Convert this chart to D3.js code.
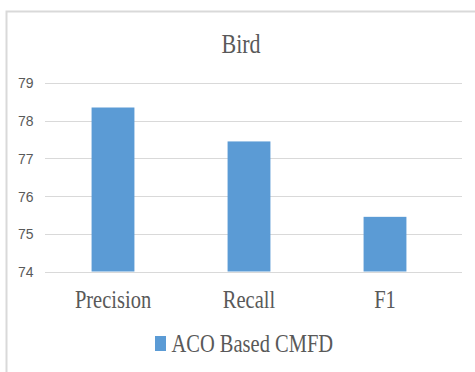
<!DOCTYPE html>
<html>
<head>
<meta charset="utf-8">
<script src="https://cdn.jsdelivr.net/npm/d3@7/dist/d3.min.js"></script>
<style>
  html, body { margin: 0; padding: 0; background: #fff; }
  svg { display: block; }
</style>
</head>
<body>
<svg id="chart" width="475" height="372"></svg>
<script>
// Bird dataset: scores of the ACO based CMFD method
const categories = ["Precision", "Recall", "F1"];
const values = [78.35, 77.45, 75.45];
const yTicks = [74, 75, 76, 77, 78, 79];
const seriesName = "ACO Based CMFD";
const title = "Bird";

const W = 475, H = 372;
const barColor = "#5b9bd5";
const textColor = "#595959";
const gridColor = "#d9d9d9";
const serif = "'Liberation Serif', 'Times New Roman', serif";
const stretch = 1.2; // glyphs are drawn slightly taller than wide

const svg = d3.select("#chart");

// chart frame
svg.append("rect")
  .attr("x", 6.5).attr("y", 11.5)
  .attr("width", W + 10).attr("height", H + 10)
  .attr("fill", "#fff")
  .attr("stroke", gridColor)
  .attr("stroke-width", 2);

const x = d3.scaleBand()
  .domain(categories)
  .range([45, 453])
  .paddingInner(0.685)
  .paddingOuter(0.3425);

const y = d3.scaleLinear()
  .domain([74, 79])
  .range([271.5, 83]);

// horizontal gridlines
svg.append("g")
  .selectAll("line")
  .data(yTicks)
  .join("line")
  .attr("x1", 45).attr("x2", 462)
  .attr("y1", d => Math.round(y(d)) + 0.5)
  .attr("y2", d => Math.round(y(d)) + 0.5)
  .attr("stroke", gridColor)
  .attr("stroke-width", 1);

// y axis labels (each tick group is already placed at its value)
const yAxis = d3.axisLeft(y).tickValues(yTicks).tickFormat(d3.format("d"))
  .tickSize(0).tickPadding(0);
const gy = svg.append("g").attr("transform", "translate(33.5,0)").call(yAxis);
gy.select(".domain").remove();
gy.selectAll("text")
  .attr("fill", textColor)
  .attr("transform", "scale(1,1.1)")
  .style("font-family", "'Liberation Sans', Arial, sans-serif")
  .style("font-size", "14px");

// bars
svg.append("g")
  .selectAll("rect")
  .data(values)
  .join("rect")
  .attr("x", (d, i) => x(categories[i]))
  .attr("width", x.bandwidth())
  .attr("y", d => y(d))
  .attr("height", d => y(74) - y(d))
  .attr("fill", barColor);

// category labels
const xAxis = d3.axisBottom(x).tickSize(0).tickPadding(0);
const gx = svg.append("g").call(xAxis);
gx.select(".domain").remove();
gx.selectAll(".tick text").remove();
gx.selectAll(".tick")
  .append("text")
  .attr("transform", `translate(0,307.5) scale(1,${stretch})`)
  .attr("text-anchor", "middle")
  .attr("fill", textColor)
  .style("font-family", serif)
  .style("font-size", "20.5px")
  .text(d => d);

// title
svg.append("text")
  .attr("transform", `translate(241,52.5) scale(1,${stretch})`)
  .attr("text-anchor", "middle")
  .attr("fill", textColor)
  .style("font-family", serif)
  .style("font-size", "22px")
  .text(title);

// legend
const legend = svg.append("g");
legend.append("rect")
  .attr("x", 155).attr("y", 336)
  .attr("width", 11).attr("height", 15)
  .attr("fill", barColor);
legend.append("text")
  .attr("transform", `translate(171.5,351.5) scale(1,${stretch})`)
  .attr("fill", textColor)
  .style("font-family", serif)
  .style("font-size", "20.5px")
  .text(seriesName);
</script>
</body>
</html>
